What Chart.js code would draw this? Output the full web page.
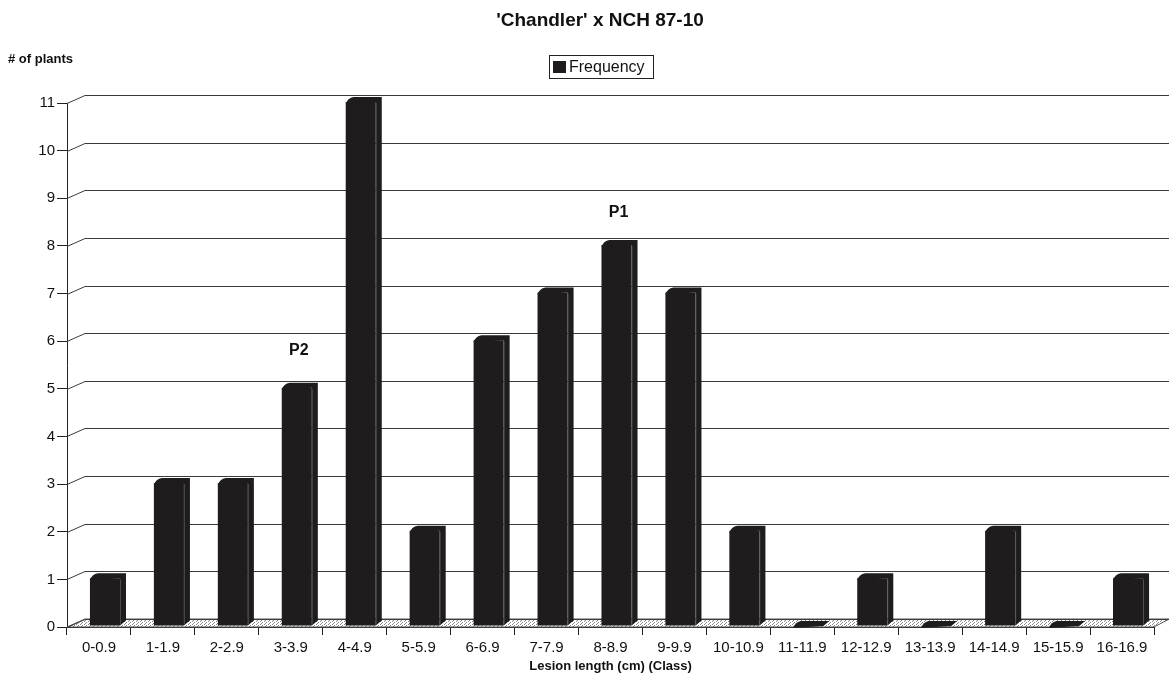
<!DOCTYPE html>
<html>
<head>
<meta charset="utf-8">
<script src="https://cdn.jsdelivr.net/npm/chart.js@4.4.1/dist/chart.umd.min.js"></script>
<style>
html,body{margin:0;padding:0;background:#fff;}
#wrap{width:1169px;height:675px;position:relative;}
</style>
</head>
<body>
<div id="wrap"><canvas id="c" width="1169" height="675"></canvas></div>
<script>
const categories = ['0-0.9','1-1.9','2-2.9','3-3.9','4-4.9','5-5.9','6-6.9','7-7.9','8-8.9','9-9.9','10-10.9','11-11.9','12-12.9','13-13.9','14-14.9','15-15.9','16-16.9'];
const frequency = [1,3,3,5,11,2,6,7,8,7,2,0,1,0,2,0,1];
const yTicks = [0,1,2,3,4,5,6,7,8,9,10,11];
const annotationLabels = ['P2','P1'];
const annotationCategories = [3,8];
const annotationValues = [5.8,8.7];

const FONT = '"Liberation Sans", Arial, Helvetica, sans-serif';
const DX = 18, DY = -8;      // back wall offset
const BX = 6, BY = -1;       // bar offset (mid depth)
const FX = 6, FY = -5;       // bar depth faces

function dotPattern(ctx){
  const p = document.createElement('canvas');
  p.width = 4; p.height = 3;
  const pc = p.getContext('2d');
  pc.fillStyle = '#fff'; pc.fillRect(0,0,4,3);
  pc.fillStyle = '#888';
  pc.fillRect(0,0,1,1); pc.fillRect(2,1,1,1); pc.fillRect(1,2,1,1);
  return ctx.createPattern(p,'repeat');
}

const backPlugin = {
  id:'back3d',
  beforeDatasetsDraw(chart){
    const {ctx, chartArea:a, scales:{y}} = chart;
    ctx.save();
    const y0 = y.getPixelForValue(0);
    ctx.beginPath();
    ctx.moveTo(a.left, y0); ctx.lineTo(a.right, y0);
    ctx.lineTo(a.right+DX*0.85, y0+DY); ctx.lineTo(a.left+DX, y0+DY); ctx.closePath();
    ctx.fillStyle = dotPattern(ctx); ctx.fill();
    ctx.strokeStyle = '#555'; ctx.lineWidth = 1; ctx.stroke();
    ctx.strokeStyle = '#3a3a3a';
    yTicks.forEach(v=>{
      const py = Math.round(y.getPixelForValue(v))+0.5;
      ctx.beginPath();
      ctx.moveTo(a.left, py);
      ctx.lineTo(a.left+DX, py+DY);
      ctx.lineTo(chart.width, py+DY);
      ctx.stroke();
    });
    ctx.restore();
    ctx.save();
    ctx.translate(BX, BY);
  },
  afterDatasetsDraw(chart){
    const ctx = chart.ctx;
    const meta = chart.getDatasetMeta(0);
    ctx.fillStyle = '#1e1c1d';
    meta.data.forEach(bar=>{
      const L = bar.x - bar.width/2, R = bar.x + bar.width/2;
      const T = Math.min(bar.y, bar.base), B = bar.base;
      ctx.beginPath();
      ctx.moveTo(L, T+2);
      ctx.quadraticCurveTo(L+FX*0.3, T+FY+1, L+FX+2, T+FY);
      ctx.lineTo(R+FX, T+FY);
      ctx.lineTo(R+FX, B+FY);
      ctx.lineTo(R, B);
      ctx.lineTo(R, T);
      ctx.closePath();
      ctx.fill();
      if (B-T > 4){
        ctx.strokeStyle = 'rgba(200,200,200,0.45)';
        ctx.lineWidth = 0.6;
        ctx.beginPath(); ctx.moveTo(R+0.5, T+1); ctx.lineTo(R+0.5, B-1); ctx.stroke();
      }
    });
    ctx.restore();
  },
  afterDraw(chart){
    const {ctx, scales:{x,y}} = chart;
    ctx.save();
    ctx.fillStyle = '#111';
    ctx.textAlign = 'center'; ctx.textBaseline = 'middle';
    ctx.font = 'bold 19px ' + FONT;
    ctx.fillText("'Chandler' x NCH 87-10", 600, 21);
    ctx.textAlign = 'left';
    ctx.font = 'bold 13px ' + FONT;
    ctx.fillText('# of plants', 8, 59);
    ctx.strokeStyle = '#222'; ctx.lineWidth = 1;
    ctx.strokeRect(549.5, 55.5, 104, 23);
    ctx.fillStyle = '#1e1c1d';
    ctx.fillRect(553, 61, 13, 12);
    ctx.fillStyle = '#111';
    ctx.font = '16px ' + FONT;
    ctx.fillText(chart.data.datasets[0].label, 569, 67.5);
    ctx.textAlign = 'center';
    ctx.font = 'bold 16px ' + FONT;
    annotationLabels.forEach((t,i)=>{
      ctx.fillText(t, x.getPixelForValue(annotationCategories[i]) + 8, y.getPixelForValue(annotationValues[i]));
    });
    ctx.restore();
  }
};

new Chart(document.getElementById('c'), {
  type:'bar',
  data:{
    labels: categories,
    datasets:[{
      label:'Frequency',
      data: frequency,
      backgroundColor:'#1e1c1d',
      borderWidth:0,
      barPercentage:0.47,
      categoryPercentage:1.0
    }]
  },
  options:{
    responsive:false,
    animation:false,
    layout:{padding:{top:103,right:15,left:0,bottom:0}},
    plugins:{legend:{display:false}, title:{display:false}, tooltip:{enabled:false}},
    scales:{
      x:{
        afterFit(s){ s.height = 48; },
        grid:{display:true, drawOnChartArea:false, offset:true, tickLength:8, color:'#222'},
        border:{display:true, color:'#222'},
        ticks:{font:{family:FONT, size:15}, color:'#111', padding:4, maxRotation:0, autoSkip:false},
        title:{display:true, text:'Lesion length (cm) (Class)', font:{family:FONT, size:13, weight:'bold'}, color:'#111', padding:{top:0,bottom:1}}
      },
      y:{
        min:0, max:11,
        afterFit(s){ s.width = 67; },
        grid:{display:true, drawOnChartArea:false, tickLength:10, color:'#222'},
        border:{display:true, color:'#222'},
        ticks:{stepSize:1, font:{family:FONT, size:15}, color:'#111', padding:2,
          callback:(v)=> yTicks.includes(v) ? String(v) : ''}
      }
    }
  },
  plugins:[backPlugin]
});
</script>
</body>
</html>
